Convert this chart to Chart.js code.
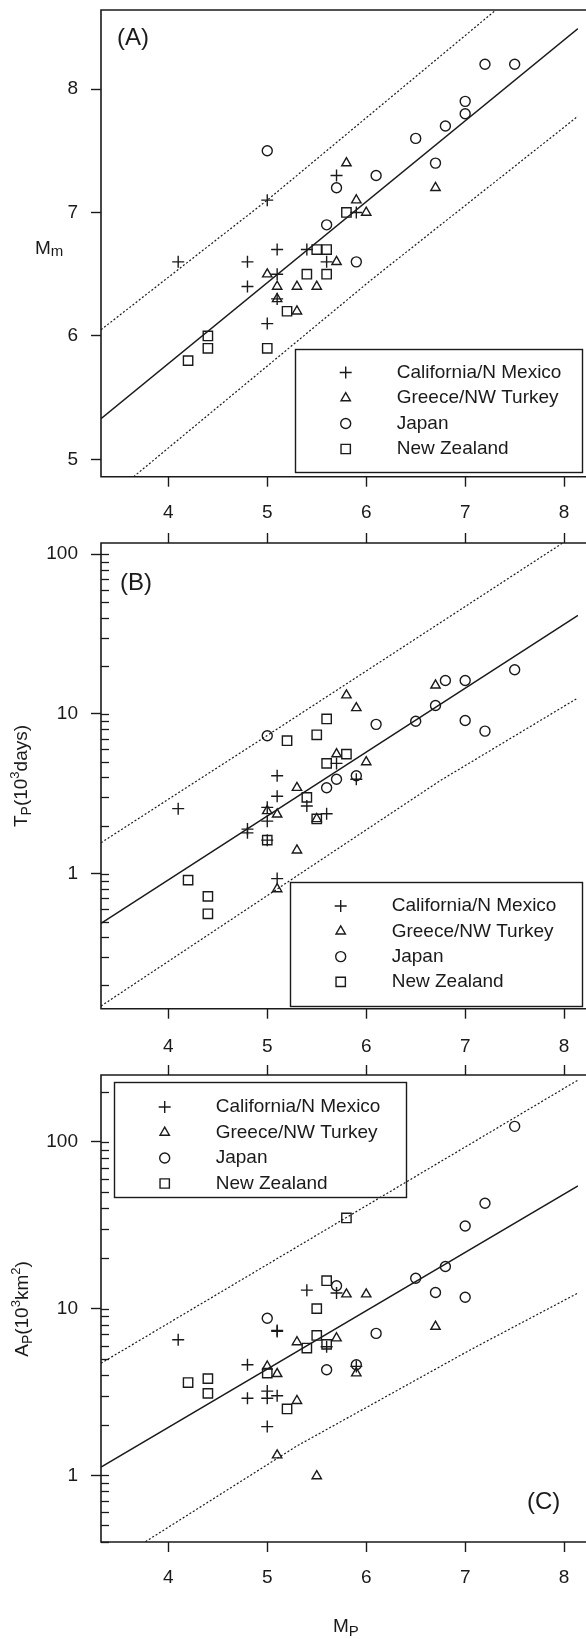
<!DOCTYPE html>
<html>
<head>
<meta charset="utf-8">
<script src="https://cdn.jsdelivr.net/npm/chart.js@4.4.1/dist/chart.umd.min.js"></script>
<style>
  html, body { margin: 0; padding: 0; background: #fff; overflow: hidden; }
  .panel { position: absolute; left: 0; width: 586px; }
  canvas { display: block; }
</style>
</head>
<body>
<div class="panel" style="top:0px"><canvas id="chartA" width="586" height="530"></canvas></div>
<div class="panel" style="top:525px"><canvas id="chartB" width="586" height="530"></canvas></div>
<div class="panel" style="top:1058px"><canvas id="chartC" width="586" height="581"></canvas></div>
<script>
// values: [Mp, value]
const seriesNames = ['California/N Mexico', 'Greece/NW Turkey', 'Japan', 'New Zealand'];

const calA = [[4.1,6.6],[4.8,6.6],[4.8,6.4],[5.0,7.1],[5.0,6.1],[5.1,6.7],[5.1,6.5],[5.1,6.3],[5.4,6.7],[5.6,6.6],[5.7,7.3],[5.9,7.0]];
const greA = [[5.0,6.5],[5.1,6.4],[5.1,6.3],[5.3,6.4],[5.3,6.2],[5.5,6.4],[5.7,6.6],[5.8,7.4],[5.9,7.1],[6.0,7.0],[6.7,7.2]];
const japA = [[5.0,7.5],[5.6,6.9],[5.7,7.2],[5.9,6.6],[6.1,7.3],[6.5,7.6],[6.7,7.4],[6.8,7.7],[7.0,7.8],[7.0,7.9],[7.2,8.2],[7.5,8.2]];
const nzA  = [[4.2,5.8],[4.4,6.0],[4.4,5.9],[5.0,5.9],[5.2,6.2],[5.4,6.5],[5.5,6.7],[5.6,6.7],[5.6,6.5],[5.8,7.0]];
const fitA = [[3.32,5.33],[8.14,8.49]];
const upA  = [[3.32,6.05],[5.0,7.1],[7.31,8.64]];
const loA  = [[3.65,4.86],[6.06,6.46],[8.14,7.78]];

const calB = [[4.1,2.55],[4.8,1.8],[4.8,1.9],[5.0,2.6],[5.0,2.13],[5.0,1.62],[5.1,4.1],[5.1,3.05],[5.1,0.93],[5.4,2.65],[5.6,2.37],[5.7,4.9],[5.9,3.9]];
const greB = [[5.0,2.47],[5.1,2.35],[5.1,0.8],[5.3,3.45],[5.3,1.4],[5.5,2.2],[5.7,5.6],[5.8,13.1],[5.9,10.9],[6.0,5.0],[6.7,15.1]];
const japB = [[5.0,7.3],[5.6,3.45],[5.7,3.9],[5.9,4.1],[6.1,8.6],[6.5,9.0],[6.7,11.3],[6.8,16.2],[7.0,16.2],[7.0,9.1],[7.2,7.8],[7.5,18.9]];
const nzB  = [[4.2,0.91],[4.4,0.72],[4.4,0.56],[5.0,1.62],[5.2,6.8],[5.4,3.0],[5.5,7.4],[5.5,2.2],[5.6,9.3],[5.6,4.9],[5.8,5.6]];
const fitB = [[3.32,0.487],[8.14,41.4]];
const upB  = [[3.32,1.56],[5.0,7.33],[7.98,117]];
const loB  = [[3.32,0.148],[5.1,0.80],[6.75,3.83],[8.14,12.6]];

const calC = [[4.1,6.5],[4.8,4.6],[4.8,2.9],[5.0,3.2],[5.0,2.9],[5.0,1.96],[5.1,7.3],[5.1,7.4],[5.1,3.0],[5.4,12.9],[5.6,5.9],[5.7,12.4],[5.9,4.5]];
const greC = [[5.0,4.5],[5.1,4.06],[5.1,1.32],[5.3,6.3],[5.3,2.8],[5.5,0.99],[5.7,6.65],[5.8,12.2],[5.9,4.1],[6.0,12.2],[6.7,7.8]];
const japC = [[5.0,8.75],[5.6,4.3],[5.7,13.7],[5.9,4.6],[6.1,7.1],[6.5,15.2],[6.7,12.5],[6.8,17.9],[7.0,31.3],[7.0,11.7],[7.2,42.9],[7.5,124]];
const nzC  = [[4.2,3.6],[4.4,3.8],[4.4,3.1],[5.0,4.1],[5.2,2.5],[5.4,5.8],[5.5,10],[5.5,6.9],[5.6,14.7],[5.6,6.1],[5.8,35]];
const fitC = [[3.32,1.12],[8.14,54.5]];
const upC  = [[3.32,4.7],[5.8,35.2],[8.14,235]];
const loC  = [[3.77,0.40],[5.3,1.5],[7.05,5.65],[8.14,12.4]];

const xTicks = [4, 5, 6, 7, 8];
const mmTicks = [5, 6, 7, 8];
const logMajor = [1, 10, 100];
const tpMinor = [0.2,0.3,0.4,0.5,0.6,0.7,0.8,0.9,2,3,4,5,6,7,8,9,20,30,40,50,60,70,80,90];
const apMinor = [0.4,0.5,0.6,0.7,0.8,0.9,2,3,4,5,6,7,8,9,20,30,40,50,60,70,80,90,200];

const ink = '#1a1a1a';
const family = '"Liberation Sans", Arial, Helvetica, sans-serif';
const markStyle = ['cross', 'triangle', 'circle', 'rect'];
const markSize = [6, 5.4, 5, 6.6];

const panels = [
  { id: 'chartA', top: 0, padTop: 10, topAxis: 0, bottomAxis: 53.3, labelPad: 15,
    yType: 'linear', yMin: 4.86, yMax: 8.64, major: mmTicks, minor: [],
    series: [calA, greA, japA, nzA], fit: fitA, upper: upA, lower: loA,
    tag: { text: '(A)', x: 117, y: 45 },
    legend: { x: 295, y: 349, w: 287, h: 123, row0: 372.5, gap: 25.5 },
    yTitle: { parts: [['M', 19, 0], ['m', 15, 2]], x: 35, y: 254 } },
  { id: 'chartB', top: 525, padTop: 0, topAxis: 18, bottomAxis: 46.3, labelPad: 16.5,
    yType: 'logarithmic', yMin: 0.1425, yMax: 117.6, major: logMajor, minor: tpMinor,
    series: [calB, greB, japB, nzB], fit: fitB, upper: upB, lower: loB,
    tag: { text: '(B)', x: 120, y: 590 },
    legend: { x: 290, y: 882, w: 292, h: 124, row0: 906, gap: 25.3 },
    yTitle: { parts: [['T', 19, 0], ['P', 14, 4], ['(10', 19, 0], ['3', 13, -8], ['days)', 19, 0]], cx: 20, cy: 776, rotate: true } },
  { id: 'chartC', top: 1058, padTop: 0, topAxis: 17, bottomAxis: 97, labelPad: 14.5,
    yType: 'logarithmic', yMin: 0.398, yMax: 252, major: logMajor, minor: apMinor,
    series: [calC, greC, japC, nzC], fit: fitC, upper: upC, lower: loC,
    tag: { text: '(C)', x: 527, y: 1509 },
    legend: { x: 114, y: 1082, w: 292, h: 115, row0: 1107, gap: 25.5 },
    yTitle: { parts: [['A', 19, 0], ['P', 14, 4], ['(10', 19, 0], ['3', 13, -8], ['km', 19, 0], ['2', 13, -8], [')', 19, 0]], cx: 21, cy: 1309, rotate: true },
    xTitle: { parts: [['M', 19, 0], ['P', 15, 4]], x: 333, y: 1632 } }
];

function drawParts(ctx, parts, x, y) {
  parts.forEach(([t, size, dy]) => {
    ctx.font = size + 'px ' + family;
    ctx.fillText(t, x, y + dy);
    x += ctx.measureText(t).width;
  });
}

function partsWidth(ctx, parts) {
  return parts.reduce((w, [t, size]) => {
    ctx.font = size + 'px ' + family;
    return w + ctx.measureText(t).width;
  }, 0);
}

const decorPlugin = {
  id: 'decor',
  afterDraw(chart, args, p) {
    const ctx = chart.ctx;
    const a = chart.chartArea;
    const y = chart.scales.y;
    const off = p.top;
    ctx.save();
    ctx.strokeStyle = ink;
    ctx.fillStyle = ink;

    // frame (right side runs off the page)
    ctx.lineWidth = 1.6;
    ctx.beginPath();
    ctx.moveTo(chart.width + 2, a.top);
    ctx.lineTo(a.left, a.top);
    ctx.lineTo(a.left, a.bottom);
    ctx.lineTo(chart.width + 2, a.bottom);
    ctx.stroke();

    // inward ticks on the log axes
    ctx.lineWidth = 1.3;
    p.minor.concat(p.yType === 'logarithmic' ? p.major : []).forEach(v => {
      if (v < p.yMin || v > p.yMax) return;
      const py = Math.round(y.getPixelForValue(v)) + 0.5;
      ctx.beginPath();
      ctx.moveTo(a.left, py);
      ctx.lineTo(a.left + 8, py);
      ctx.stroke();
    });

    // panel tag
    ctx.textBaseline = 'alphabetic';
    ctx.textAlign = 'left';
    ctx.font = '24px ' + family;
    ctx.fillText(p.tag.text, p.tag.x, p.tag.y - off);

    // legend box
    const L = p.legend;
    ctx.lineWidth = 1.4;
    ctx.strokeRect(L.x + 0.5, L.y - off + 0.5, L.w, L.h);
    seriesNames.forEach((name, i) => {
      const ry = L.row0 + i * L.gap - off;
      ctx.save();
      ctx.fillStyle = 'rgba(0,0,0,0)';
      ctx.lineWidth = 1.4;
      Chart.helpers.drawPoint(ctx, { pointStyle: markStyle[i], radius: markSize[i], rotation: 0, borderWidth: 1.4 }, L.x + 50.7, ry);
      ctx.restore();
      ctx.font = '19px ' + family;
      ctx.textBaseline = 'middle';
      ctx.fillText(name, L.x + 101.7, ry);
    });

    // axis titles
    ctx.textBaseline = 'alphabetic';
    const t = p.yTitle;
    if (t.rotate) {
      const w = partsWidth(ctx, t.parts);
      ctx.save();
      ctx.translate(t.cx, t.cy - off);
      ctx.rotate(-Math.PI / 2);
      drawParts(ctx, t.parts, -w / 2, 7);
      ctx.restore();
    } else {
      drawParts(ctx, t.parts, t.x, t.y - off);
    }
    if (p.xTitle) drawParts(ctx, p.xTitle.parts, p.xTitle.x, p.xTitle.y - off);
    ctx.restore();
  }
};

function toXY(arr) {
  return arr.map(d => ({ x: d[0], y: d[1] }));
}

function tickGrid(colorFn) {
  return { drawOnChartArea: false, drawTicks: true, tickLength: 10, tickWidth: 1.4, tickColor: colorFn || ink };
}

function xScale(p, position, height) {
  return {
    type: 'linear', position, min: 3.32, max: 8.14,
    afterBuildTicks: s => { s.ticks = xTicks.map(v => ({ value: v })); },
    afterFit: s => { s.height = height; s.paddingLeft = 0; s.paddingRight = 0; },
    border: { display: false },
    grid: tickGrid(),
    ticks: { display: position === 'bottom', autoSkip: false, maxRotation: 0, padding: p.labelPad,
             color: ink, font: { family, size: 19 }, callback: v => String(v) }
  };
}

panels.forEach(p => {
  const marks = p.series.map((pts, i) => ({
    label: seriesNames[i], data: toXY(pts), showLine: false,
    pointStyle: markStyle[i], pointRadius: markSize[i], pointBorderWidth: 1.4,
    borderColor: ink, backgroundColor: 'rgba(0,0,0,0)'
  }));
  const lines = [[p.fit, [], 1.5], [p.upper, [2, 2], 1.2], [p.lower, [2, 2], 1.2]].map(([pts, dash, w]) => ({
    data: toXY(pts), showLine: true, pointRadius: 0, borderColor: ink, borderWidth: w,
    borderDash: dash, fill: false, backgroundColor: 'rgba(0,0,0,0)'
  }));

  const allY = p.yType === 'logarithmic' ? p.major.concat(p.minor).sort((a, b) => a - b) : p.major;
  const scales = {
    x: xScale(p, 'bottom', p.bottomAxis),
    y: {
      type: p.yType, position: 'left', min: p.yMin, max: p.yMax,
      afterBuildTicks: s => { s.ticks = allY.filter(v => v >= p.yMin && v <= p.yMax).map(v => ({ value: v })); },
      afterFit: s => { s.width = 101; s.paddingTop = 0; s.paddingBottom = 0; },
      border: { display: false },
      grid: tickGrid(c => (c.tick && p.major.includes(c.tick.value)) ? ink : 'rgba(0,0,0,0)'),
      ticks: { autoSkip: false, padding: 13, color: ink, font: { family, size: 19 },
               callback: v => p.major.includes(v) ? String(v) : '' }
    }
  };
  if (p.topAxis) scales.x2 = xScale(p, 'top', p.topAxis);

  new Chart(document.getElementById(p.id), {
    type: 'scatter',
    data: { datasets: lines.concat(marks) },
    options: {
      responsive: false,
      animation: false,
      events: [],
      layout: { padding: { top: p.padTop, left: 0, right: 0, bottom: 0 } },
      plugins: { legend: { display: false }, tooltip: { enabled: false }, decor: p },
      scales
    },
    plugins: [decorPlugin]
  });
});
</script>
</body>
</html>
